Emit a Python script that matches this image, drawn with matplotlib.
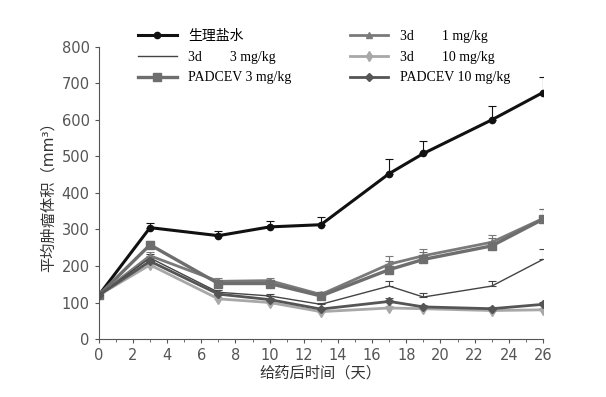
import matplotlib
matplotlib.use("Agg")
import matplotlib.pyplot as plt
import numpy as np

plt.rcParams["font.family"] = ["DejaVu Sans", "Noto Sans CJK SC"]

days = [0, 3, 7, 10, 13, 17, 19, 23, 26]

saline = [120, 305, 283, 307, 313, 453, 508, 600, 675]
saline_err = [0, 12, 14, 15, 22, 40, 35, 38, 42]

d3_1mg = [120, 228, 158, 160, 122, 205, 228, 265, 330]
d3_1mg_err = [0, 10, 8, 8, 6, 22, 18, 20, 25]

d3_3mg = [120, 222, 128, 118, 95, 145, 115, 145, 218]
d3_3mg_err = [0, 10, 6, 6, 5, 15, 12, 15, 28]

d3_10mg = [120, 203, 110, 100, 75, 85, 83, 78, 80]
d3_10mg_err = [0, 8, 5, 5, 4, 6, 5, 5, 6]

padcev_3mg = [120, 258, 152, 152, 118, 190, 218, 255, 328]
padcev_3mg_err = [0, 10, 8, 10, 6, 25, 20, 22, 28]

padcev_10mg = [120, 213, 123, 108, 82, 103, 88, 83, 95]
padcev_10mg_err = [0, 8, 6, 5, 4, 8, 6, 5, 6]

series = [
    ("生理盐水", saline, saline_err, "#111111", "o", 2.2, 4.5),
    ("3d        1 mg/kg", d3_1mg, d3_1mg_err, "#7a7a7a", "^", 2.0, 5),
    ("3d        3 mg/kg", d3_3mg, d3_3mg_err, "#444444", None, 1.0, 0),
    ("3d        10 mg/kg", d3_10mg, d3_10mg_err, "#a8a8a8", "d", 2.0, 5),
    ("PADCEV 3 mg/kg", padcev_3mg, padcev_3mg_err, "#6e6e6e", "s", 2.4, 6),
    ("PADCEV 10 mg/kg", padcev_10mg, padcev_10mg_err, "#555555", "D", 2.0, 4.5),
]

fig = plt.figure(figsize=(6.06, 3.97), dpi=100)
ax = fig.add_axes([0.163, 0.146, 0.733, 0.736])

handles = []
labels = []
for name, vals, err, color, marker, lw, ms in series:
    yerr = [np.zeros(len(err)), err]
    cont = ax.errorbar(days, vals, yerr=yerr, color=color, marker=marker, lw=lw,
                       markersize=ms, capsize=3, elinewidth=0.8, capthick=0.8)
    handles.append(cont[0])
    labels.append(name)

ax.set_xlim(0, 26)
ax.set_ylim(0, 800)
ax.set_xticks(range(0, 27, 2))
ax.set_xticks(range(0, 27), minor=True)
ax.set_yticks(range(0, 801, 100))
ax.spines["top"].set_visible(False)
ax.spines["right"].set_visible(False)
ax.spines["left"].set_color("#555555")
ax.spines["bottom"].set_color("#555555")
ax.tick_params(colors="#555555", labelsize=10.5, length=3)
ax.tick_params(which="minor", length=2, color="#555555")

ax.set_xlabel("给药后时间（天）", fontsize=11, color="#333333", labelpad=2)
ax.set_ylabel("平均肿瘤体积（mm³）", fontsize=11, color="#333333", labelpad=4)

# matplotlib fills legend columns first, reorder so rows read left to right
order = [0, 2, 4, 1, 3, 5]
ax.legend([handles[i] for i in order], [labels[i] for i in order],
          loc="upper left", bbox_to_anchor=(0.06, 1.10), ncol=2,
          frameon=False, columnspacing=4.2, handlelength=2.8,
          labelspacing=0.55,
          prop={"family": ["Liberation Serif", "Noto Sans CJK SC"], "size": 10})

fig.savefig("out.png", dpi=100, facecolor="white")
